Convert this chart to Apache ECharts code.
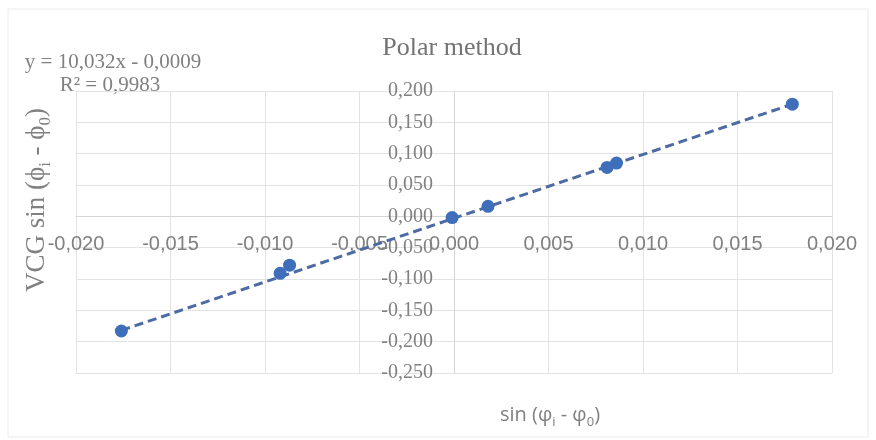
<!DOCTYPE html>
<html>
<head>
<meta charset="utf-8">
<script src="https://cdn.jsdelivr.net/npm/echarts@6/dist/echarts.min.js"></script>
<style>html,body{margin:0;padding:0;background:#fff}#c{width:876px;height:440px}</style>
</head>
<body>
<div id="c"></div>
<script>
const pointX = [-0.0176, -0.0092, -0.0087, -0.0001, 0.0018, 0.0081, 0.0086, 0.0179];
const pointY = [-0.183, -0.091, -0.078, -0.002, 0.016, 0.078, 0.085, 0.179];
const trendX = [-0.0176, 0.0179];
const trendY = [-0.182, 0.179];
const xTicks = [-0.020, -0.015, -0.010, -0.005, 0.000, 0.005, 0.010, 0.015, 0.020];
const yTicks = [-0.250, -0.200, -0.150, -0.100, -0.050, 0.000, 0.050, 0.100, 0.150, 0.200];
const titleText = 'Polar method';
const eqLine1 = 'y = 10,032x - 0,0009';
const eqLine2 = 'R² = 0,9983';

const fmt = v => { let s = Math.abs(v) < 1e-9 ? '0.000' : v.toFixed(3); return s.replace('.', ','); };
const chart = echarts.init(document.getElementById('c'), null, {renderer: 'canvas'});
const gridCol = '#e3e3e3';
const textCol = '#808080';
const G = {left: 76, right: 44, top: 91, bottom: 67};
const plotW = 876 - G.left - G.right, plotH = 440 - G.top - G.bottom;
const xMin = xTicks[0], xMax = xTicks[xTicks.length - 1];
const yMin = yTicks[0], yMax = yTicks[yTicks.length - 1];
// place each axis on the other's zero
const yAxisOffset = -plotW * (0 - xMin) / (xMax - xMin);
const xAxisOffset = -plotH * (0 - yMin) / (yMax - yMin);
chart.setOption({
  animation: false,
  backgroundColor: '#fff',
  title: {
    text: titleText, left: 447, top: 30, textAlign: 'center',
    textStyle: {fontFamily: 'Liberation Serif', fontSize: 26, fontWeight: 'normal', color: '#737373'}
  },
  grid: G,
  xAxis: {
    type: 'value', min: xMin, max: xMax, interval: 0.005, position: 'bottom', offset: xAxisOffset,
    axisLine: {onZero: false, lineStyle: {color: '#d6d6d6', width: 1}},
    axisTick: {show: false},
    splitLine: {show: true, lineStyle: {color: gridCol, width: 1}},
    axisLabel: {formatter: fmt, margin: 18, color: textCol, fontFamily: 'Liberation Sans', fontSize: 20, hideOverlap: false}
  },
  yAxis: {
    type: 'value', min: yMin, max: yMax, interval: 0.05, position: 'left', offset: yAxisOffset,
    axisLine: {onZero: false, lineStyle: {color: '#d6d6d6', width: 1}},
    axisTick: {show: false},
    splitLine: {show: true, lineStyle: {color: gridCol, width: 1}},
    axisLabel: {formatter: fmt, margin: 21, color: textCol, fontFamily: 'Liberation Serif', fontSize: 20, hideOverlap: false}
  },
  graphic: [
    {type: 'rect', shape: {x: 8, y: 9, width: 860, height: 428}, style: {fill: 'none', stroke: '#ebebeb', lineWidth: 1}, silent: true},
    {type: 'text', x: 113, y: 62, style: {text: eqLine1, align: 'center', verticalAlign: 'middle', fontFamily: 'Liberation Serif', fontSize: 21, fill: textCol}},
    {type: 'text', x: 110, y: 85, style: {text: eqLine2, align: 'center', verticalAlign: 'middle', fontFamily: 'Liberation Serif', fontSize: 21, fill: textCol}},
    {type: 'text', x: 37, y: 200, rotation: Math.PI / 2,
     style: {text: '{a|VCG sin (ϕ}{s|i}{a| - ϕ}{s|0}{a|)}', align: 'center', verticalAlign: 'middle',
       rich: {a: {fontFamily: 'Liberation Serif', fontSize: 27, fill: textCol, lineHeight: 34},
              s: {fontFamily: 'Liberation Serif', fontSize: 17, fill: textCol, verticalAlign: 'bottom', lineHeight: 34}}}},
    {type: 'text', x: 550, y: 415,
     style: {text: '{a|sin (φ}{s|i}{a| - φ}{s|0}{a|)}', align: 'center', verticalAlign: 'middle',
       rich: {a: {fontFamily: 'Open Sans', fontSize: 20, fill: textCol, lineHeight: 28},
              s: {fontFamily: 'Open Sans', fontSize: 13, fill: textCol, verticalAlign: 'bottom', lineHeight: 28}}}}
  ],
  series: [
    {type: 'line', data: trendX.map((x, i) => [x, trendY[i]]), symbol: 'none', silent: true,
     lineStyle: {color: '#4d6aa2', width: 3, type: [9, 5]}, z: 2},
    {type: 'scatter', data: pointX.map((x, i) => [x, pointY[i]]), symbolSize: 13,
     itemStyle: {color: '#3f6fba', opacity: 1}, z: 3}
  ]
});
</script>
</body>
</html>
